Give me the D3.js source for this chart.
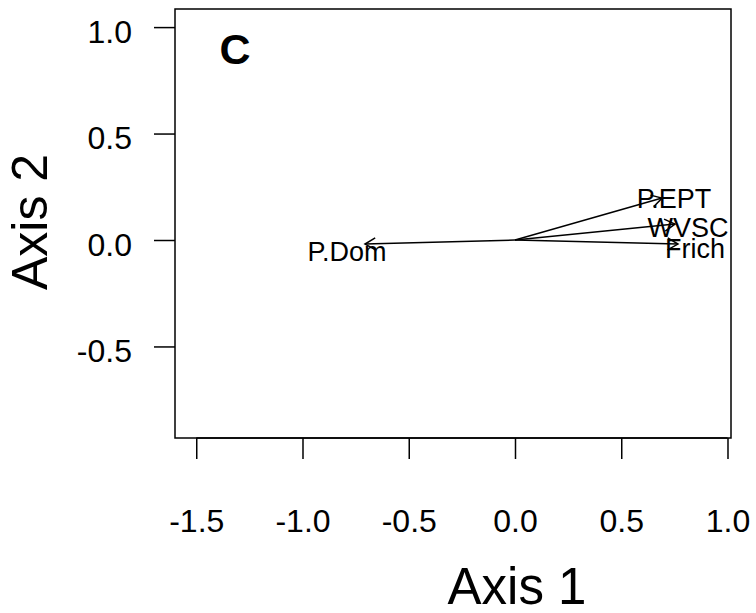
<!DOCTYPE html>
<html><head><meta charset="utf-8">
<script src="https://cdn.jsdelivr.net/npm/d3@7"></script>
<style>body{margin:0;background:#fff}svg{display:block}text{font-family:"Liberation Sans",Arial,sans-serif;fill:#000}</style>
</head><body><svg id="c" width="756" height="613"></svg>
<script>
const variables = ["P.EPT","WVSC","Frich","P.Dom"];
const axis1 = [0.692, 0.753, 0.767, -0.706];
const axis2 = [0.197, 0.075, -0.019, -0.019];
const labelAxis1 = [0.748, 0.814, 0.847, -0.791];
const labelAxis2 = [0.197, 0.059, -0.038, -0.052];
const xTicks = [-1.5, -1.0, -0.5, 0.0, 0.5, 1.0];
const yTicks = [-0.5, 0.0, 0.5, 1.0];
const panelLabel = "C";

const svg = d3.select("#c");
const L=175, R=731, T=9, B=438;
const x = d3.scaleLinear().domain([-1.6, 1.0165]).range([L, R]);
const y = d3.scaleLinear().domain([-0.93, 1.085]).range([B, T]);
const fmt = v => v.toFixed(1);

// box
svg.append("rect").attr("x",L).attr("y",T).attr("width",R-L).attr("height",B-T)
  .attr("fill","none").attr("stroke","#000").attr("stroke-width",1.5);

// x axis
const xa = svg.append("g").attr("transform",`translate(0,${B})`)
  .call(d3.axisBottom(x).tickValues(xTicks).tickSize(21).tickPadding(50).tickFormat(fmt));
xa.select(".domain").attr("d",`M${x(-1.5)},0H${x(1.0)}`).attr("stroke-width",1.5);
xa.selectAll(".tick line").attr("stroke-width",1.5);
xa.selectAll("text").attr("font-size",32).attr("font-family","Liberation Sans, Arial, sans-serif");

// y axis
const ya = svg.append("g").attr("transform",`translate(${L},0)`)
  .call(d3.axisLeft(y).tickValues(yTicks).tickSize(21).tickPadding(22).tickFormat(fmt));
ya.select(".domain").remove();
ya.selectAll(".tick line").attr("stroke-width",1.5);
ya.selectAll("text").attr("font-size",32).attr("dy","0.47em").attr("font-family","Liberation Sans, Arial, sans-serif");

// titles
svg.append("text").attr("x",517).attr("y",604).attr("text-anchor","middle").attr("font-size",51).text("Axis 1");
svg.append("text").attr("transform","translate(47,222) rotate(-90)").attr("text-anchor","middle").attr("font-size",50).text("Axis 2");
svg.append("text").attr("x",235).attr("y",64).attr("text-anchor","middle").attr("font-size",43).attr("font-weight","bold").text(panelLabel);

// arrows
const head = 12, ang = Math.PI/6;
const g = svg.append("g").attr("stroke","#000").attr("stroke-width",1.5).attr("fill","none");
variables.forEach((v,i)=>{
  const x0=x(0), y0=y(0), x1=x(axis1[i]), y1=y(axis2[i]);
  const th = Math.atan2(y1-y0, x1-x0);
  g.append("line").attr("x1",x0).attr("y1",y0).attr("x2",x1).attr("y2",y1);
  const p = d3.path();
  p.moveTo(x1 - head*Math.cos(th-ang), y1 - head*Math.sin(th-ang));
  p.lineTo(x1,y1);
  p.lineTo(x1 - head*Math.cos(th+ang), y1 - head*Math.sin(th+ang));
  g.append("path").attr("d",p.toString());
  svg.append("text").attr("x",x(labelAxis1[i])).attr("y",y(labelAxis2[i])).attr("dy","0.36em")
    .attr("text-anchor","middle").attr("font-size",27).text(v);
});
</script></body></html>
